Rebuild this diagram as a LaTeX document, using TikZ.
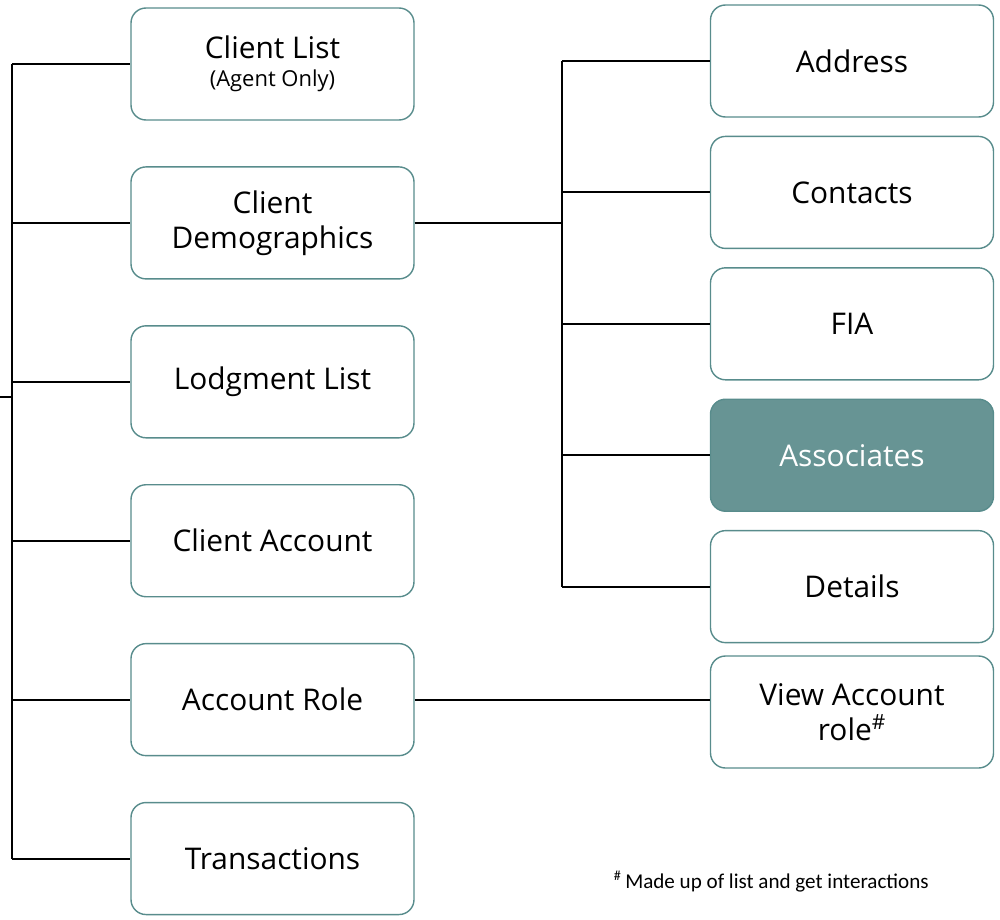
\documentclass[tikz,border=0pt]{standalone}
\usepackage{fontspec}
\setmainfont{Open Sans}
\newfontfamily\notefont{Carlito}
\usetikzlibrary{positioning}
\definecolor{boxline}{RGB}{88,140,140}
\definecolor{assocfill}{RGB}{103,148,148}

\begin{document}
\begin{tikzpicture}[x=0.2mm, y=-0.2mm, every node/.style={inner sep=2pt},
    menubox/.style={draw=boxline, line width=0.8pt, rounded corners=3mm, fill=white,
        minimum width=56.6mm, minimum height=22.4mm, align=center,
        font=\fontsize{17}{20}\selectfont},
    link/.style={line width=1.1pt} ]

    \useasboundingbox (0,0) rectangle (1000,919);

    % Left column.
    \node[menubox] (clist) at (272.5,64)
        {Client List\\[-4pt]{\fontsize{12.5}{14}\selectfont (Agent Only)}};
    \node[menubox, below=9.1mm of clist] (cdemo) {Client\\Demographics};
    \node[menubox, below=9.1mm of cdemo] (lodge) {Lodgment List};
    \node[menubox, below=9.1mm of lodge] (cacct) {Client Account};
    \node[menubox, below=9.1mm of cacct] (arole) {Account Role};
    \node[menubox, below=9.1mm of arole] (trans) {Transactions};

    % Right column.
    \node[menubox] (addr) at (852,61) {Address};
    \node[menubox, below=3.6mm of addr] (contacts) {Contacts};
    \node[menubox, below=3.6mm of contacts] (fia) {FIA};
    \node[menubox, below=3.6mm of fia, fill=assocfill, text=white] (assoc) {Associates};
    \node[menubox, below=3.6mm of assoc] (details) {Details};
    \node[menubox] (view) at (852,712) {View Account\\role\textsuperscript{\#}};

    % Left tree.
    \coordinate (root) at (0,397);
    \coordinate (ltrunk) at (12,0);
    \draw[link] (clist.west -| ltrunk) -- (trans.west -| ltrunk);
    \draw[link] (root) -- (root -| ltrunk);
    \foreach \n in {clist,cdemo,lodge,cacct,arole,trans}
        \draw[link] (\n.west -| ltrunk) -- (\n.west);

    % Demographics tree.
    \coordinate (rtrunk) at (562,0);
    \draw[link] (addr.west -| rtrunk) -- (details.west -| rtrunk);
    \draw[link] (cdemo.east) -- (cdemo.east -| rtrunk);
    \foreach \n in {addr,contacts,fia,assoc,details}
        \draw[link] (\n.west -| rtrunk) -- (\n.west);

    % Account role.
    \draw[link] (arole.east) -- (arole.east -| view.west);

    % Footnote.
    \node[anchor=base west, font=\notefont\fontsize{12}{14}\selectfont] (note) at (610,888)
        {\textsuperscript{\#}\,Made up of list and get interactions};

\end{tikzpicture}
\end{document}
